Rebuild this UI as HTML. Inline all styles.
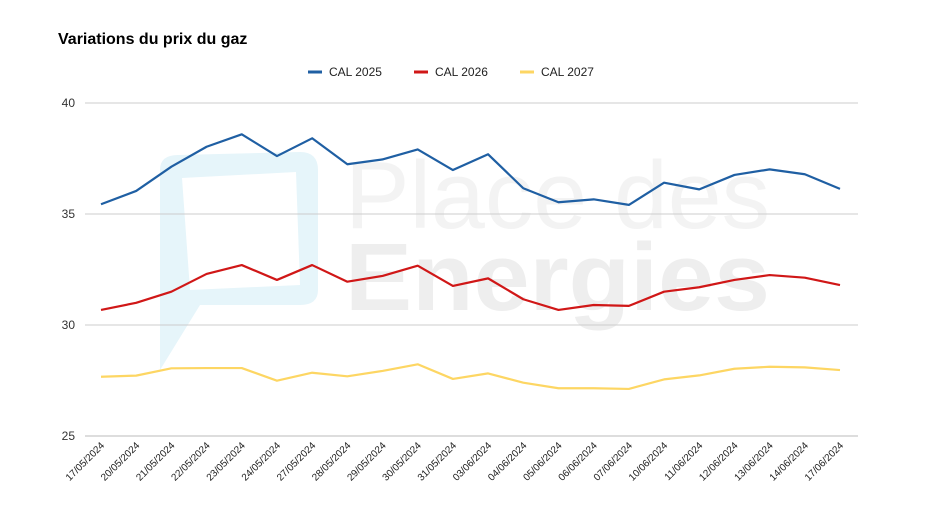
<!DOCTYPE html>
<html><head><meta charset="utf-8"><style>
body{margin:0;background:#fff;}
svg{display:block;font-family:"Liberation Sans",Arial,sans-serif;}
</style></head><body>
<svg id="chart" width="936" height="526" viewBox="0 0 936 526">
<rect width="936" height="526" fill="#fff"/>
<g>
<path d="M160,170 Q160,155 178,155 L300,152 Q318,152 318,170 L318,290 Q318,305 300,305 L200,305 L160,370 Z" fill="#e6f5fa"/>
<path d="M182,178 L296,172 L300,285 L190,290 Z" fill="#fff"/>
<text x="345" y="228" font-size="96" fill="#f3f3f3" textLength="425" lengthAdjust="spacingAndGlyphs">Place des</text>
<text x="345" y="310" font-size="96" fill="#eeeeee" font-weight="bold" textLength="425" lengthAdjust="spacingAndGlyphs">Energies</text>
</g>
<text x="58" y="44" font-size="16" font-weight="bold" fill="#000">Variations du prix du gaz</text>
<g id="legend" font-size="12" fill="#222"></g>
<g id="grid"></g>
<g id="series"></g>
<g id="xlabels" font-size="10" fill="#222"></g>
</svg>
<script>
const categories=["17/05/2024","20/05/2024","21/05/2024","22/05/2024","23/05/2024","24/05/2024","27/05/2024","28/05/2024","29/05/2024","30/05/2024","31/05/2024","03/06/2024","04/06/2024","05/06/2024","06/06/2024","07/06/2024","10/06/2024","11/06/2024","12/06/2024","13/06/2024","14/06/2024","17/06/2024"];
const cal2025=[35.44,36.04,37.13,38.03,38.59,37.61,38.41,37.24,37.46,37.91,36.98,37.69,36.16,35.53,35.66,35.41,36.41,36.11,36.76,37.01,36.79,36.13];
const cal2026=[30.68,31.0,31.5,32.3,32.7,32.03,32.7,31.95,32.21,32.67,31.76,32.1,31.16,30.68,30.9,30.86,31.5,31.7,32.03,32.25,32.13,31.8];
const cal2027=[27.67,27.72,28.05,28.06,28.06,27.49,27.85,27.69,27.93,28.23,27.57,27.82,27.4,27.15,27.15,27.12,27.55,27.73,28.03,28.12,28.09,27.97];
const yTicks=[25,30,35,40];
const seriesNames=["CAL 2025","CAL 2026","CAL 2027"];
const NS="http://www.w3.org/2000/svg";
function xS(i){return 101+i*(840-101)/(categories.length-1);}
function yS(v){return 103+(40-v)*(436-103)/15;}
function mk(t,a,p){const e=document.createElementNS(NS,t);for(const k in a)e.setAttribute(k,a[k]);p.appendChild(e);return e;}
const grid=document.getElementById('grid');
yTicks.forEach(v=>{
 const l=mk('line',{x1:85,x2:858,y1:yS(v),y2:yS(v),stroke:v===25?'#bbb':'#ccc','stroke-width':1},grid);
 
 
 const t=mk('text',{x:75,y:yS(v)+4,'text-anchor':'end','font-size':12,fill:'#333'},grid);
 t.textContent=v;
 
 
});
const colors=["#1f5fa3","#d01717","#fdd663"];
const data=[cal2025,cal2026,cal2027];
const sg=document.getElementById('series');
data.forEach((d,s)=>{
 const p=mk('polyline',{points:d.map((v,i)=>xS(i)+','+yS(v)).join(' '),fill:'none',stroke:colors[s],'stroke-width':2.2,'stroke-linejoin':'round'},sg);
 
 
});
const lg=document.getElementById('legend');
const lx=[308,414,520];
seriesNames.forEach((n,s)=>{
 const g=mk('g',{},lg);
 
 
 mk('line',{x1:lx[s],x2:lx[s]+14,y1:72,y2:72,stroke:colors[s],'stroke-width':3},g);
 const t=mk('text',{x:lx[s]+21,y:76},g);t.textContent=n;
});
const xl=document.getElementById('xlabels');
categories.forEach((c,i)=>{
 const x=xS(i)+4,y=446;
 const t=mk('text',{x:x,y:y,'text-anchor':'end',transform:'rotate(-45 '+x+' '+y+')'},xl);
 t.textContent=c;
 
 
});
</script>
</body></html>
